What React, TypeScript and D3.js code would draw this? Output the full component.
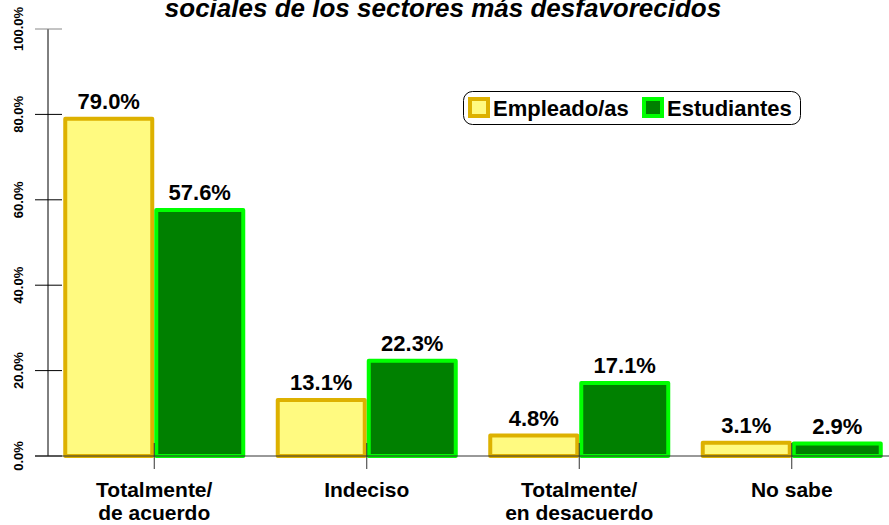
import React, { useEffect, useRef } from 'react';
import * as d3 from 'd3';

const categories = [['Totalmente/', 'de acuerdo'], ['Indeciso'], ['Totalmente/', 'en desacuerdo'], ['No sabe']];
const empleados = [79.0, 13.1, 4.8, 3.1];
const estudiantes = [57.6, 22.3, 17.1, 2.9];
const yTicks = [0, 20, 40, 60, 80, 100];
const seriesNames = ['Empleado/as', 'Estudiantes'];

const W = 889;
const H = 525;
const font = '"Liberation Sans", Arial, sans-serif';

export default function App() {
  const svgRef = useRef<SVGSVGElement>(null);

  useEffect(() => {
    const svg = d3.select(svgRef.current);
    svg.selectAll('*').remove();

    const x = d3.scaleBand<number>().domain(d3.range(categories.length)).range([48, 898]);
    const y = d3.scaleLinear().domain([0, 100]).range([456, 29]);
    const barW = 91;

    // titulo (primera linea fuera de la imagen)
    svg.append('text')
      .attr('x', 443).attr('y', 17)
      .attr('text-anchor', 'middle')
      .attr('font-family', font).attr('font-weight', 'bold').attr('font-style', 'italic')
      .attr('font-size', 26)
      .text('sociales de los sectores más desfavorecidos');

    // eje y
    svg.append('line').attr('x1', 48).attr('x2', 48).attr('y1', y(100)).attr('y2', y(0))
      .attr('stroke', '#000').attr('stroke-width', 1);
    const yt = svg.append('g');
    yTicks.forEach(t => {
      yt.append('line').attr('x1', 35).attr('x2', 62).attr('y1', y(t)).attr('y2', y(t))
        .attr('stroke', t === 100 ? '#888' : '#000').attr('stroke-width', 1);
      yt.append('text')
        .attr('transform', `translate(22.5,${y(t)}) rotate(-90)`)
        .attr('text-anchor', 'middle')
        .attr('font-family', font).attr('font-weight', 'bold').attr('font-size', 13)
        .text(d3.format('.1f')(t) + '%');
    });

    const g = svg.append('g');
    const series = [
      { vals: empleados, fill: '#FFFA80', stroke: '#DDB100', off: -barW },
      { vals: estudiantes, fill: '#008000', stroke: '#00FF00', off: 0 },
    ];
    series.forEach(s => {
      s.vals.forEach((v, i) => {
        const cx = x(i)! + x.bandwidth() / 2;
        g.append('rect')
          .attr('x', cx + s.off + 2).attr('y', y(v))
          .attr('width', barW - 4).attr('height', y(0) - y(v))
          .attr('fill', s.fill).attr('stroke', s.stroke).attr('stroke-width', 4)
          .attr('stroke-linejoin', 'round');
      });
    });
    series.forEach(s => {
      s.vals.forEach((v, i) => {
        const cx = x(i)! + x.bandwidth() / 2;
        g.append('text')
          .attr('x', cx + s.off + barW / 2).attr('y', y(v) - 10)
          .attr('text-anchor', 'middle')
          .attr('font-family', font).attr('font-weight', 'bold').attr('font-size', 22)
          .text(d3.format('.1f')(v) + '%');
      });
    });

    // linea base
    svg.append('line').attr('x1', 35).attr('x2', W).attr('y1', y(0)).attr('y2', y(0))
      .attr('stroke', '#333').attr('stroke-width', 1);

    categories.forEach((c, i) => {
      const cx = x(i)! + x.bandwidth() / 2;
      svg.append('line').attr('x1', cx).attr('x2', cx).attr('y1', 443).attr('y2', 469)
        .attr('stroke', '#333').attr('stroke-width', 1);
      const t = svg.append('text')
        .attr('text-anchor', 'middle')
        .attr('font-family', font).attr('font-weight', 'bold').attr('font-size', 21);
      c.forEach((line, j) => {
        t.append('tspan').attr('x', cx).attr('y', 497 + j * 23).text(line);
      });
    });

    // leyenda
    const lg = svg.append('g');
    lg.append('rect').attr('x', 463.5).attr('y', 91.5).attr('width', 337).attr('height', 33)
      .attr('rx', 9).attr('fill', '#fff').attr('stroke', '#000').attr('stroke-width', 1);
    const items = [
      { x: 468, fill: '#FFFA80', stroke: '#DDB100' },
      { x: 642, fill: '#008000', stroke: '#00FF00' },
    ];
    items.forEach((it, k) => {
      lg.append('rect').attr('x', it.x + 2).attr('y', 99).attr('width', 18).attr('height', 17)
        .attr('fill', it.fill).attr('stroke', it.stroke).attr('stroke-width', 4);
      lg.append('text').attr('x', it.x + 25).attr('y', 116)
        .attr('font-family', font).attr('font-weight', 'bold').attr('font-size', 22)
        .text(seriesNames[k]);
    });
  }, []);

  return (
    <svg ref={svgRef} width={W} height={H}
      style={{ position: 'absolute', left: 0, top: 0, background: '#fff' }} />
  );
}
